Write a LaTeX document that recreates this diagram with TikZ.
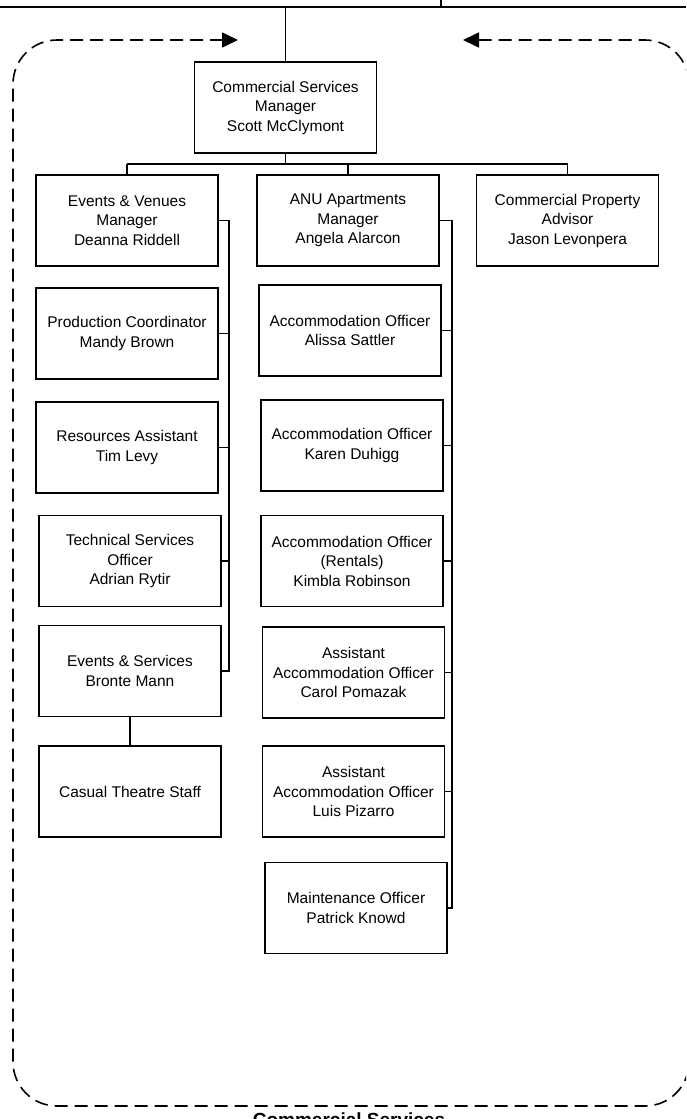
\documentclass[tikz,border=0pt]{standalone}
\usepackage{fontspec}
\setmainfont{Liberation Sans}
\usetikzlibrary{arrows.meta}
\tikzset{myhead/.tip={Triangle[length=16pt,width=15pt]}}
\begin{document}
\begin{tikzpicture}[x=1pt,y=-1pt,
  box/.style={draw, line width=1.8pt, minimum width=182pt, minimum height=91pt, inner sep=0pt, align=center, font=\fontsize{15.5}{19.5}\selectfont},
  conn/.style={line width=1.8pt},
  frame/.style={line width=1.6pt, dash pattern=on 13pt off 7pt, rounded corners=44pt}]
\useasboundingbox (0,0) rectangle (686,1119);
\clip (0,0) rectangle (686,1119);

% boxes
\node[box] (top) at (285.5,107.5) {Commercial Services\\Manager\\Scott McClymont};
\node[box] (ev) at (127,220.5) {Events \& Venues\\Manager\\Deanna Riddell};
\node[box] (pc) at (127,333.5) {Production Coordinator\\Mandy Brown};
\node[box] (ra) at (127,447.5) {Resources Assistant\\Tim Levy};
\node[box] (ts) at (130,561) {Technical Services\\Officer\\Adrian Rytir};
\node[box] (es) at (130,671) {Events \& Services\\Bronte Mann};
\node[box] (ct) at (130,791.5) {Casual Theatre Staff};
\node[box] (anu) at (348,220.5) {ANU Apartments\\Manager\\Angela Alarcon};
\node[box] (a1) at (350,330.5) {Accommodation Officer\\Alissa Sattler};
\node[box] (a2) at (352,445.5) {Accommodation Officer\\Karen Duhigg};
\node[box] (a3) at (352,561) {Accommodation Officer\\(Rentals)\\Kimbla Robinson};
\node[box] (a4) at (353.5,672.5) {Assistant\\Accommodation Officer\\Carol Pomazak};
\node[box] (a5) at (353.5,791.5) {Assistant\\Accommodation Officer\\Luis Pizarro};
\node[box] (mo) at (356,908) {Maintenance Officer\\Patrick Knowd};
\node[box] (cp) at (567.5,220.5) {Commercial Property\\Advisor\\Jason Levonpera};

% top lines
\coordinate (tl) at (0,7);
\coordinate (tr) at (686,7);
\coordinate (tt) at (441,0);
\coordinate (tj) at (441,7);
\draw[conn] (tl) -- (tr);
\draw[conn] (tt) -- (tj);
\draw[conn] (top.north |- tl) -- (top.north);

% first level
\coordinate (bus) at (0,164);
\draw[conn] (top.south) -- (top.south |- bus);
\draw[conn] (ev.north |- bus) -- (cp.north |- bus);
\draw[conn] (ev.north |- bus) -- (ev.north);
\draw[conn] (anu.north |- bus) -- (anu.north);
\draw[conn] (cp.north |- bus) -- (cp.north);

% left branch
\coordinate (lb) at (229,0);
\draw[conn] (ev.east) -- (lb |- ev.east) -- (lb |- es.east) -- (es.east);
\draw[conn] (pc.east) -- (lb |- pc.east);
\draw[conn] (ra.east) -- (lb |- ra.east);
\draw[conn] (ts.east) -- (lb |- ts.east);
\draw[conn] (es.south) -- (ct.north);

% middle branch
\coordinate (mb) at (452,0);
\draw[conn] (anu.east) -- (mb |- anu.east) -- (mb |- mo.east) -- (mo.east);
\draw[conn] (a1.east) -- (mb |- a1.east);
\draw[conn] (a2.east) -- (mb |- a2.east);
\draw[conn] (a3.east) -- (mb |- a3.east);
\draw[conn] (a4.east) -- (mb |- a4.east);
\draw[conn] (a5.east) -- (mb |- a5.east);

% dashed frame with arrows
\coordinate (ar) at (463,40);
\coordinate (al) at (238,40);
\coordinate (c1) at (689,40);
\coordinate (c2) at (689,1106);
\coordinate (c3) at (13,1106);
\coordinate (c4) at (13,40);
\draw[frame, myhead-myhead] (ar) -- (c1) -- (c2) -- (c3) -- (c4) -- (al);

\node[font=\bfseries\fontsize{19}{22}\selectfont, anchor=base] (lbl) at (349,1126) {Commercial Services};
\end{tikzpicture}
\end{document}
